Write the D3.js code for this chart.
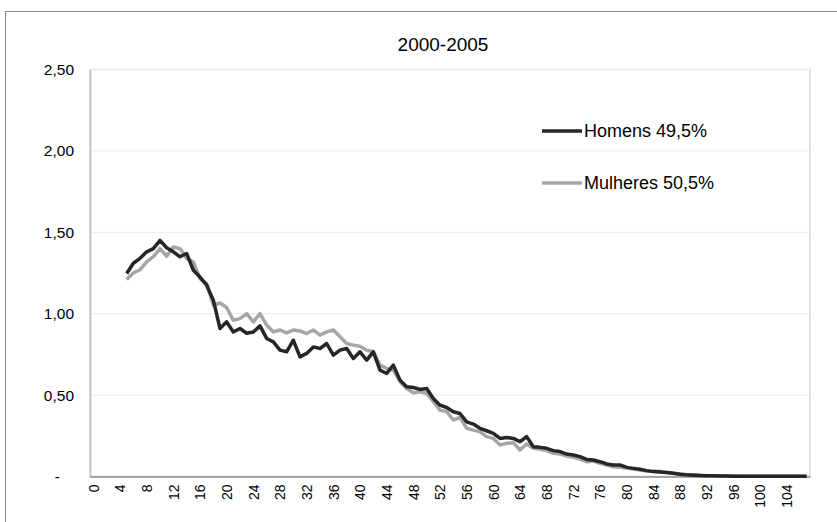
<!DOCTYPE html>
<head>
  <meta charset="utf-8">
  <script src="https://d3js.org/d3.v7.min.js"></script>
  <style>
    body { margin:0; background:#fff; }
    text { font-family: "Liberation Sans", Arial, sans-serif; fill:#000; }
  </style>
</head>
<body>
  <div class="body"></div>
  <script>
    // ages 0..107, values start at age 5
    const ages = d3.range(0, 108);
    const startAge = 5;
    const homens = [
      1.247, 1.31, 1.34, 1.38, 1.40, 1.45, 1.405, 1.38, 1.35, 1.37,
      1.267, 1.225, 1.175, 1.083, 0.909, 0.95, 0.888, 0.909, 0.88, 0.888,
      0.925, 0.848, 0.827, 0.776, 0.766, 0.837, 0.735, 0.756, 0.796, 0.786,
      0.817, 0.745, 0.776, 0.786, 0.725, 0.766, 0.715, 0.766, 0.653, 0.633,
      0.684, 0.592, 0.551, 0.547, 0.535, 0.541, 0.479, 0.438, 0.424, 0.398,
      0.387, 0.336, 0.322, 0.296, 0.281, 0.265, 0.234, 0.24, 0.234, 0.214,
      0.245, 0.183, 0.179, 0.173, 0.159, 0.153, 0.138, 0.132, 0.122, 0.105,
      0.101, 0.091, 0.077, 0.071, 0.071, 0.056, 0.05, 0.044, 0.036, 0.03,
      0.028, 0.024, 0.02, 0.014, 0.01, 0.008, 0.006, 0.005, 0.004, 0.003,
      0.003, 0.002, 0.002, 0.002, 0.002, 0.001, 0.001, 0.001, 0.001, 0.001,
      0.001, 0.001, 0.001
    ];
    const mulheres = [
      1.21, 1.25, 1.27, 1.318, 1.35, 1.40, 1.353, 1.41, 1.40, 1.34,
      1.318, 1.216, 1.185, 1.052, 1.066, 1.038, 0.96, 0.97, 1.0, 0.95,
      1.0, 0.93, 0.888, 0.90, 0.882, 0.90, 0.894, 0.878, 0.90, 0.868,
      0.888, 0.90, 0.858, 0.817, 0.807, 0.80, 0.776, 0.766, 0.684, 0.664,
      0.653, 0.582, 0.541, 0.514, 0.521, 0.51, 0.459, 0.408, 0.398, 0.347,
      0.363, 0.296, 0.285, 0.275, 0.245, 0.234, 0.194, 0.204, 0.208, 0.163,
      0.2, 0.173, 0.167, 0.159, 0.142, 0.138, 0.126, 0.118, 0.107, 0.091,
      0.095, 0.081, 0.071, 0.06, 0.056, 0.052, 0.046, 0.04, 0.034, 0.032,
      0.032, 0.024, 0.02, 0.016, 0.012, 0.01, 0.008, 0.006, 0.005, 0.004,
      0.004, 0.003, 0.003, 0.002, 0.002, 0.002, 0.002, 0.001, 0.001, 0.001,
      0.001, 0.001, 0.001
    ];
    const yTicks = [0, 0.5, 1, 1.5, 2, 2.5];
    const yTickLabels = ["-", "0,50", "1,00", "1,50", "2,00", "2,50"];
    const xTickLabels = ages.filter(a => a % 4 === 0 && a <= 104);
    const series = [
      {name: "Homens 49,5%", values: homens, color: "#262626"},
      {name: "Mulheres 50,5%", values: mulheres, color: "#a6a6a6"}
    ];

    const W = 837, H = 522;
    const plot = {left: 90, right: 810, top: 69.5, bottom: 476.5};

    const svg = d3.select(".body").append("svg")
      .attr("width", W).attr("height", H);

    // chart area border
    svg.append("rect")
      .attr("x", 5.5).attr("y", 11.5)
      .attr("width", 900).attr("height", 600)
      .attr("fill", "#fff").attr("stroke", "#8c8c8c").attr("stroke-width", 1);

    const x = d3.scalePoint().domain(ages).range([plot.left, plot.right]).padding(0.5);
    const y = d3.scaleLinear().domain([0, 2.5]).range([plot.bottom, plot.top]);

    // plot area border
    svg.append("rect")
      .attr("x", plot.left).attr("y", plot.top)
      .attr("width", plot.right - plot.left).attr("height", plot.bottom - plot.top)
      .attr("fill", "none").attr("stroke", "#d9d9d9").attr("stroke-width", 1.5);

    // gridlines
    svg.append("g").selectAll("line")
      .data(yTicks.filter(d => d > 0))
      .enter().append("line")
      .attr("x1", plot.left).attr("x2", plot.right)
      .attr("y1", d => y(d)).attr("y2", d => y(d))
      .attr("stroke", "#ececec").attr("stroke-width", 1);

    // y axis
    const yAxis = svg.append("g")
      .attr("transform", "translate(" + plot.left + ",0)")
      .call(d3.axisLeft(y).tickValues(yTicks).tickSize(0).tickPadding(16)
        .tickFormat((d, i) => yTickLabels[i]));
    yAxis.select(".domain").attr("stroke", "#bfbfbf").attr("stroke-width", 1.5);
    yAxis.selectAll("text")
      .attr("font-size", 15.5).attr("font-family", "Liberation Sans, Arial")
      .attr("dx", d => d === 0 ? -14 : 0);

    // x axis
    const xAxis = svg.append("g")
      .attr("transform", "translate(0," + plot.bottom + ")")
      .call(d3.axisBottom(x).tickValues(xTickLabels).tickSize(0));
    xAxis.select(".domain").attr("stroke", "#8c8c8c").attr("stroke-width", 1.5);
    xAxis.selectAll("text")
      .attr("font-size", 14).attr("font-family", "Liberation Sans, Arial")
      .attr("text-anchor", "end")
      .attr("transform", "rotate(-90)")
      .attr("x", -8).attr("y", 0).attr("dy", "0.35em");

    // lines
    const line = d3.line()
      .x((d, i) => x(startAge + i))
      .y(d => y(d));
    svg.append("g").selectAll("path")
      .data(series.slice().reverse())
      .enter().append("path")
      .attr("d", d => line(d.values))
      .attr("fill", "none")
      .attr("stroke", d => d.color)
      .attr("stroke-width", 3.5)
      .attr("stroke-linejoin", "round");

    // title
    svg.append("text")
      .attr("x", 443).attr("y", 46)
      .attr("text-anchor", "middle").attr("dominant-baseline", "middle")
      .attr("font-size", 19)
      .text("2000-2005");

    // legend
    const legendY = [131, 183];
    const leg = svg.append("g").selectAll("g")
      .data(series).enter().append("g")
      .attr("transform", (d, i) => "translate(542," + legendY[i] + ")");
    leg.append("line")
      .attr("x1", 0).attr("x2", 40)
      .attr("stroke", d => d.color).attr("stroke-width", 3.5);
    leg.append("text")
      .attr("x", 42).attr("dy", "0.35em")
      .attr("font-size", 18)
      .text(d => d.name);
  </script>
</body>
